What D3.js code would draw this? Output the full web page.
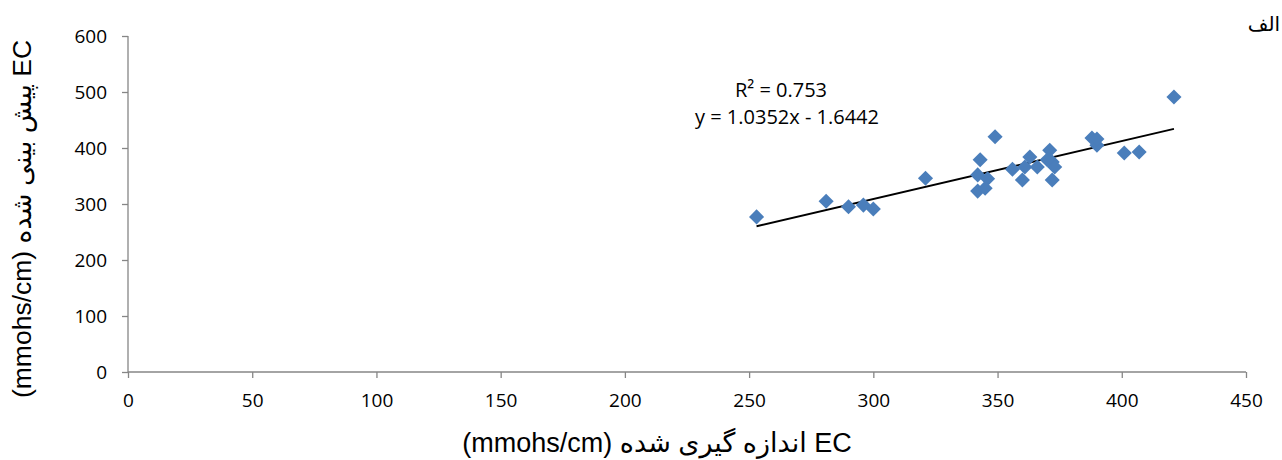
<!DOCTYPE html>
<html><head><meta charset="utf-8">
<script src="https://cdn.jsdelivr.net/npm/d3@7"></script>
<style>body{margin:0;background:#fff}svg{display:block}</style>
</head><body>
<svg id="c" width="1282" height="460"></svg>
<script>
const measured  = [253,281,290,296,300,321,349,343,342,346,342,345,356,360,363,361,366,371,372,372,373,370,388,390,390,401,407,421];
const predicted = [277,305,295,298,291,346,420,379,352,345,323,328,362,343,384,366,366,396,375,343,366,379,418,405,416,391,393,491];
const xTicks = [0,50,100,150,200,250,300,350,400,450];
const yTicks = [0,100,200,300,400,500,600];
const slope = 1.0352, intercept = -1.6442;
const eqText = "y = 1.0352x - 1.6442";
const r2Text = "R² = 0.753";
const xTitle = "(mmohs/cm) اندازه گیری شده EC";
const yTitle = "(mmohs/cm) پیش بینی شده EC";
const panelLabel = "الف";

const svg = d3.select("#c");
const x = d3.scaleLinear().domain([0,450]).range([128,1246]);
const y = d3.scaleLinear().domain([0,600]).range([372,36]);
const axisColor = "#868686";
const tickFont = "'Open Sans', 'Liberation Sans', sans-serif";

const gx = svg.append("g").attr("transform","translate(0,372)")
  .call(d3.axisBottom(x).tickValues(xTicks).tickSize(6).tickPadding(16));
const gy = svg.append("g").attr("transform","translate(128,0)")
  .call(d3.axisLeft(y).tickValues(yTicks).tickSize(6).tickPadding(15));
[gx,gy].forEach(g=>{
  g.select(".domain").attr("stroke",axisColor).attr("stroke-width",1.3);
  g.selectAll(".tick line").attr("stroke",axisColor).attr("stroke-width",1.3);
  g.selectAll(".tick text").attr("fill","#000").style("font-family",tickFont).style("font-size","19px");
});
gy.select(".domain").attr("d","M0,36V372");
gx.select(".domain").attr("d","M128,0H1246");

// trend line
const xs = d3.extent(measured);
svg.append("line")
  .attr("x1",x(xs[0])).attr("y1",y(slope*xs[0]+intercept))
  .attr("x2",x(xs[1])).attr("y2",y(slope*xs[1]+intercept))
  .attr("stroke","#000").attr("stroke-width",1.9);

// points
const sym = d3.symbol().type(d3.symbolDiamond2).size(145);
svg.append("g").selectAll("path").data(measured.map((m,i)=>[m,predicted[i]]))
  .join("path")
  .attr("d",sym)
  .attr("transform",d=>`translate(${x(d[0])},${y(d[1])})`)
  .attr("fill","#4A7EBB");

// equation labels
svg.append("text").attr("x",781).attr("y",97).attr("text-anchor","middle")
  .style("font-family",tickFont).style("font-size","20px").text(r2Text);
svg.append("text").attr("x",787).attr("y",124).attr("text-anchor","middle")
  .style("font-family",tickFont).style("font-size","20px").text(eqText);

// axis titles
svg.append("text").attr("x",657).attr("y",452).attr("text-anchor","middle")
  .style("font-family","'Liberation Sans', 'DejaVu Sans', sans-serif").style("font-size","27px")
  .attr("direction","ltr").text(xTitle);
svg.append("text").attr("transform","translate(31,219) rotate(-90)").attr("text-anchor","middle")
  .style("font-family","'Liberation Sans', 'DejaVu Sans', sans-serif").style("font-size","26.5px")
  .attr("direction","ltr").text(yTitle);

svg.append("text").attr("x",1264).attr("y",31).attr("text-anchor","middle")
  .style("font-family","'DejaVu Sans', serif").style("font-size","20px").text(panelLabel);
</script>
</body></html>
